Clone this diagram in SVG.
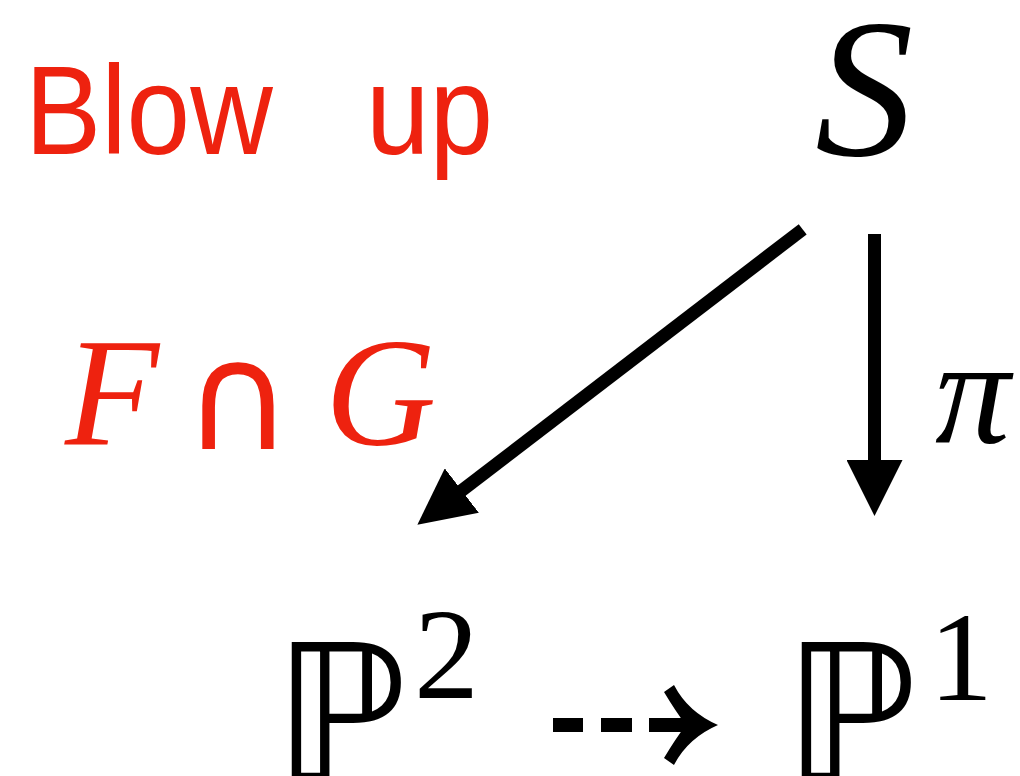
<svg xmlns="http://www.w3.org/2000/svg" width="1020" height="776" viewBox="0 0 1020 776">
<style>
.red{fill:#ee220f}
.sans{font-family:"Liberation Sans",Arial,sans-serif}
.serif{font-family:"Liberation Serif","Times New Roman",serif}
.it{font-style:italic}
.bb{font-family:"DejaVu Sans",sans-serif}
.conn{stroke:#000;stroke-width:13;fill:none}
</style>
<defs>
<marker id="head" markerUnits="userSpaceOnUse" markerWidth="56" markerHeight="56" viewBox="0 0 54 54" refX="1" refY="27" orient="auto">
<path d="M0,0 L54,27 L0,54 Z" fill="#000"/>
</marker>
</defs>
<g id="title">
<text class="sans red" font-size="127" transform="translate(25,154) scale(0.9,1)">Blow</text>
<text class="sans red" font-size="127" transform="translate(366,154) scale(0.9,1)">up</text>
</g>
<g id="node-S">
<text class="serif it" font-size="197" x="815" y="155">S</text>
</g>
<g id="label-FG">
<text class="serif it red" font-size="154" x="65" y="445">F</text>
<text class="bb red" font-size="150" x="238" y="449" text-anchor="middle">∩</text>
<text class="serif it red" font-size="154" x="325" y="445">G</text>
</g>
<g id="label-pi">
<text class="serif it" font-size="150" x="935" y="443">π</text>
</g>
<g id="node-P2">
<text class="bb" font-size="192" x="273" y="782">ℙ</text>
<text class="serif" font-size="130" x="414" y="698">2</text>
</g>
<g id="node-P1">
<text class="bb" font-size="192" x="783" y="782">ℙ</text>
<text class="serif" font-size="128" x="929" y="700">1</text>
</g>
<g id="connectors">
<line class="conn" x1="802.7" y1="229.3" x2="461" y2="491.2" marker-end="url(#head)"/>
<line class="conn" x1="874.5" y1="234" x2="874.5" y2="461" marker-end="url(#head)"/>
<rect x="553" y="718" width="30" height="14"/>
<rect x="601" y="718" width="31" height="14"/>
<rect x="649" y="718" width="38" height="14"/>
<path d="M718,725 Q688,712 674,685 L664,692 Q676,712 686,725 Q676,738 664,758 L674,765 Q688,738 718,725 Z"/>
</g>
</svg>
